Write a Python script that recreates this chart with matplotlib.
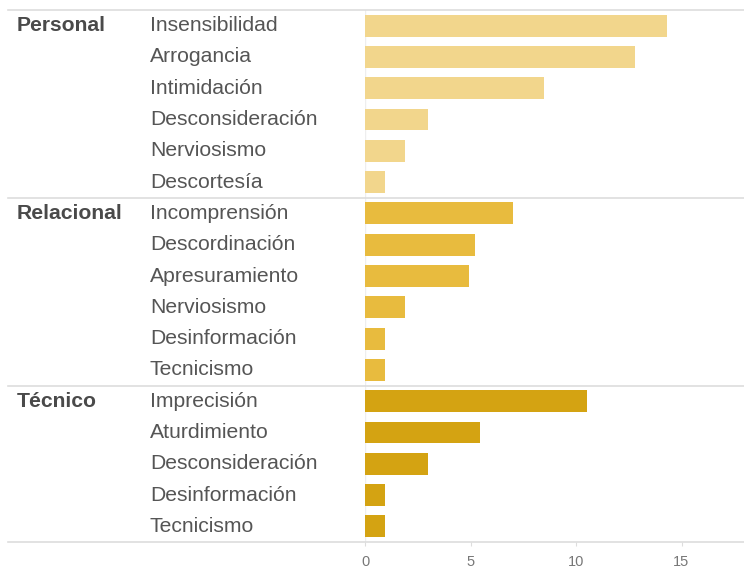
import matplotlib
matplotlib.use("Agg")
import matplotlib.pyplot as plt
from matplotlib.lines import Line2D
from matplotlib.transforms import blended_transform_factory

plt.rcParams['font.family'] = ['Liberation Sans', 'DejaVu Sans']

# Groups, their items and values
groups = ["Personal", "Relacional", "Técnico"]
personal_items = ["Insensibilidad", "Arrogancia", "Intimidación",
                  "Desconsideración", "Nerviosismo", "Descortesía"]
personal_values = [14.3, 12.8, 8.5, 3.0, 1.9, 0.95]
relacional_items = ["Incomprensión", "Descordinación", "Apresuramiento",
                    "Nerviosismo", "Desinformación", "Tecnicismo"]
relacional_values = [7.0, 5.2, 4.95, 1.9, 0.95, 0.95]
tecnico_items = ["Imprecisión", "Aturdimiento", "Desconsideración",
                 "Desinformación", "Tecnicismo"]
tecnico_values = [10.5, 5.45, 3.0, 0.95, 0.95]
x_ticks = [0, 5, 10, 15]

group_items = [personal_items, relacional_items, tecnico_items]
group_values = [personal_values, relacional_values, tecnico_values]
group_colors = ["#F2D68C", "#E8BB3E", "#D4A312"]

W, H = 744, 571
fig = plt.figure(figsize=(W / 100, H / 100), dpi=100)
ax = fig.add_axes([365 / W, 1 - 542 / H, 1 - 365 / W, (542 - 10) / H])

n_rows = sum(len(v) for v in group_values)
ax.set_ylim(n_rows - 0.5, -0.5)
ax.set_xlim(0, (W - 365) / 21.1)

label_tr = blended_transform_factory(fig.transFigure, ax.transData)
text_color = "#555555"
line_color = "#DDDDDD"

row = 0
boundaries = [-0.5]
for g, items, vals, col in zip(groups, group_items, group_values, group_colors):
    ys = list(range(row, row + len(items)))
    ax.barh(ys, vals, height=0.7, color=col, edgecolor="none", zorder=2)
    ax.text(17 / W, ys[0], g, transform=label_tr, ha="left", va="center",
            fontsize=15.2, fontweight="bold", color="#4A4A4A")
    for y, name in zip(ys, items):
        ax.text(150 / W, y, name, transform=label_tr, ha="left", va="center",
                fontsize=15.2, color=text_color)
    row += len(items)
    boundaries.append(row - 0.5)

# Horizontal separators across the whole width
for b in boundaries:
    fig.add_artist(Line2D([8 / W, 1.0], [b, b], transform=label_tr,
                          color=line_color, lw=1.2, zorder=1))

# Faint baseline at zero
ax.axvline(0, color="#EEEEEE", lw=1, zorder=1)

for s in ax.spines.values():
    s.set_visible(False)
ax.set_yticks([])
ax.set_xticks(x_ticks)
ax.set_xticklabels([str(t) for t in x_ticks])
ax.tick_params(axis="x", length=3, width=0.8, color="#DDDDDD",
               labelcolor="#777777", labelsize=10.5, pad=6)

fig.savefig("out.png", dpi=100, facecolor="white")
